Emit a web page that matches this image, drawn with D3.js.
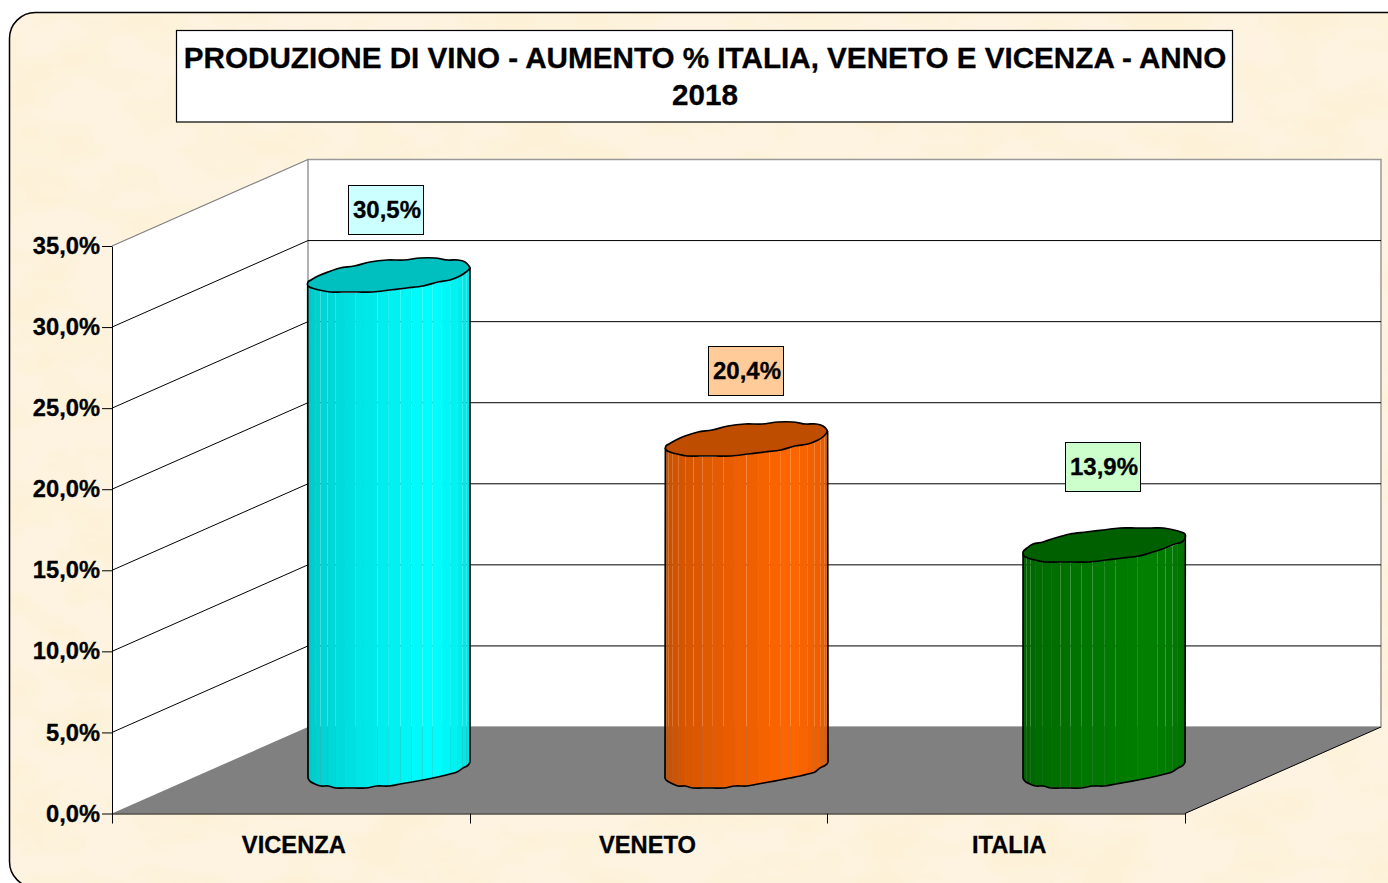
<!DOCTYPE html>
<html>
<head>
<meta charset="utf-8">
<script src="https://cdn.jsdelivr.net/npm/d3@7"></script>
<style>
  html, body { margin: 0; padding: 0; background: #fff; overflow: hidden; }
  svg { display: block; }
  text { font-family: "Liberation Sans", Arial, sans-serif; font-weight: bold; fill: #000; stroke: #000; stroke-width: 0.3px; }
</style>
</head>
<body>
<div id="chart"></div>
<script>
// Data
const categories = ["VICENZA", "VENETO", "ITALIA"];
const values = [30.5, 20.4, 13.9];
const valueLabels = ["30,5%", "20,4%", "13,9%"];
const barColors = ["#00ffff", "#ff6600", "#008000"];
const labelFills = ["#ccffff", "#ffcc99", "#ccffcc"];
const yTicks = [0, 5, 10, 15, 20, 25, 30, 35];
const titleLines = ["PRODUZIONE DI VINO - AUMENTO % ITALIA, VENETO E VICENZA - ANNO", "2018"];

const width = 1388, height = 883;

// Fake 3D: the depth of the plot box is a plain screen offset
const depthX = 196, depthY = -86.5;
const radiusDepth = 0.2, radiusFront = 71;

const svg = d3.select("#chart").append("svg")
    .attr("width", width)
    .attr("height", height)
    .attr("viewBox", `0 0 ${width} ${height}`);

const x = d3.scaleBand().domain(categories).range([112, 1185]);
const y = d3.scaleLinear().domain([0, 35]).range([813.5, 246]);

const project = (px, v, depth) => [px + depth * depthX, y(v) + depth * depthY];

// Paper background
const defs = svg.append("defs");
defs.append("clipPath").attr("id", "frame-clip")
    .append("rect").attr("x", 9.5).attr("y", 12.5).attr("width", 1420).attr("height", 875).attr("rx", 26);

const paper = defs.append("filter").attr("id", "paper")
    .attr("x", 0).attr("y", 0).attr("width", "100%").attr("height", "100%");
paper.append("feTurbulence")
    .attr("type", "fractalNoise")
    .attr("baseFrequency", "0.014 0.024")
    .attr("numOctaves", 4)
    .attr("seed", 7);
paper.append("feColorMatrix")
    .attr("type", "matrix")
    .attr("values", "0 0 0 0 0.98  0 0 0 0 0.89  0 0 0 0 0.68  3 0 0 0 -1.2");

const bg = svg.append("g").attr("clip-path", "url(#frame-clip)");
bg.append("rect").attr("width", width).attr("height", height).attr("fill", "#fdf3e0");
bg.append("rect").attr("width", width).attr("height", height).attr("filter", "url(#paper)");

svg.append("rect")
    .attr("x", 9.5).attr("y", 12.5).attr("width", 1420).attr("height", 875).attr("rx", 26)
    .attr("fill", "none").attr("stroke", "#000").attr("stroke-width", 1.5);

// Title box
svg.append("rect")
    .attr("x", 176.5).attr("y", 30.5).attr("width", 1056).attr("height", 91.5)
    .attr("fill", "#fff").attr("stroke", "#000").attr("stroke-width", 1.2);

svg.selectAll(".title-line")
    .data(titleLines)
    .enter().append("text")
    .attr("class", "title-line")
    .attr("x", 705)
    .attr("y", (d, i) => 68 + i * 37)
    .attr("text-anchor", "middle")
    .attr("font-size", 29.65)
    .text(d => d);

// Plot box: walls and floor
const polygon = d3.line();
const left = x.range()[0], right = x.range()[1];

const walls = svg.append("g");
walls.append("path")
    .attr("d", polygon([project(left, 0, 0), project(left, 35, 0), project(left, 35, 1), project(left, 0, 1)]) + "Z")
    .attr("fill", "#fff");
walls.append("path")
    .attr("d", polygon([project(left, 0, 1), project(left, 35, 1), project(right, 35, 1), project(right, 0, 1)]) + "Z")
    .attr("fill", "#fff").attr("stroke", "#999").attr("stroke-width", 1.5);
walls.append("path")
    .attr("d", polygon([project(left, 35, 0), project(left, 35, 1)]))
    .attr("stroke", "#808080").attr("stroke-width", 1.2).attr("fill", "none");

// Gridlines, side wall then back wall
const grid = svg.append("g").attr("stroke", "#000").attr("stroke-width", 1).attr("fill", "none");
grid.selectAll(".side").data(yTicks.filter(t => t > 0 && t < 35)).enter().append("path")
    .attr("class", "side")
    .attr("d", t => polygon([project(left, t, 0), project(left, t, 1)]));
grid.selectAll(".back").data(yTicks.filter(t => t > 0 && t < 35)).enter().append("path")
    .attr("class", "back")
    .attr("d", t => polygon([project(left, t, 1), project(right, t, 1)]));

svg.append("path")
    .attr("d", polygon([project(left, 0, 0), project(right, 0, 0), project(right, 0, 1), project(left, 0, 1)]) + "Z")
    .attr("fill", "#808080");
svg.append("path")
    .attr("d", polygon([project(right, 0, 0), project(right, 0, 1)]))
    .attr("stroke", "#000").attr("stroke-width", 1).attr("fill", "none");

// Cylinders
const facetCount = 22;
const halfTurn = Math.atan2(radiusDepth * depthX, radiusFront);
const shade = d3.scaleLinear().domain([0, 0.68, 1]).range([0.76, 1, 0.86]);

const rim = (cx, v, t) => {
    const [px, py] = project(cx, v, 0.5);
    return [
        px + radiusFront * Math.cos(t) + radiusDepth * depthX * Math.sin(t),
        py + radiusDepth * depthY * Math.sin(t)
    ];
};

// the original outline wobbles a little, snap y and smooth it to get the same look
const snap = p => [Math.round(p[0]), Math.round(p[1] / 2) * 2];
const wavy = d3.line().curve(d3.curveCatmullRom);
const wavyClosed = d3.line().curve(d3.curveCatmullRomClosed);

const bars = svg.selectAll(".bar")
    .data(categories.map((c, i) => ({ c, v: values[i], color: barColors[i] })))
    .enter().append("g")
    .attr("class", "bar");

bars.each(function (d) {
    const g = d3.select(this);
    const cx = x(d.c) + x.bandwidth() / 2;
    const angles = d3.range(facetCount + 1).map(i => halfTurn - Math.PI + i * Math.PI / facetCount);

    // no stroke on the facets, the seams should let the background through
    d3.pairs(angles).forEach(([a, b], i) => {
        g.append("path")
            .attr("d", polygon([rim(cx, d.v, a), rim(cx, d.v, b), rim(cx, 0, b), rim(cx, 0, a)]) + "Z")
            .attr("fill", d3.interpolateRgb("#000", d.color)(shade((i + 0.5) / facetCount)));
    });

    const bottomEdge = wavy(angles.map(a => rim(cx, 0, a)).map(snap));
    const topLeft = rim(cx, d.v, angles[0]);
    const topRight = rim(cx, d.v, angles[facetCount]);
    g.append("path")
        .attr("d", `M${topLeft[0]},${topLeft[1]}L${bottomEdge.slice(1)}L${topRight[0]},${topRight[1]}`)
        .attr("fill", "none").attr("stroke", "#000").attr("stroke-width", 1.7);

    const cap = d3.range(30).map(i => snap(rim(cx, d.v, i * 2 * Math.PI / 30)));
    g.append("path")
        .attr("d", wavyClosed(cap))
        .attr("fill", d3.interpolateRgb("#000", d.color)(0.75))
        .attr("stroke", "#000").attr("stroke-width", 1.7);
});

// Value labels
const labelOffset = [[0, -66], [2, -68], [2, -78]];
const labels = svg.selectAll(".value-label")
    .data(categories)
    .enter().append("g")
    .attr("class", "value-label")
    .attr("transform", (c, i) => {
        const [px, py] = project(x(c) + x.bandwidth() / 2, values[i], 0.5);
        return `translate(${Math.round(px + labelOffset[i][0])},${Math.round(py + labelOffset[i][1])})`;
    });

labels.append("rect")
    .attr("x", -40.5).attr("y", -24.5).attr("width", 75).attr("height", 49)
    .attr("fill", (c, i) => labelFills[i])
    .attr("stroke", "#000").attr("stroke-width", 1);

labels.append("text")
    .attr("x", -2)
    .attr("y", 8)
    .attr("text-anchor", "middle")
    .attr("font-size", 24)
    .text((c, i) => valueLabels[i]);

// Axes
const yAxis = svg.append("g")
    .attr("transform", `translate(${left},0)`)
    .call(d3.axisLeft(y).tickValues(yTicks).tickSize(10).tickSizeOuter(0).tickPadding(2)
        .tickFormat(d => d.toFixed(1).replace(".", ",") + "%"));
yAxis.selectAll("text").attr("font-size", 23.7).style("font-family", null);

const xAxis = svg.append("g")
    .attr("transform", `translate(0,${y(0)})`)
    .call(d3.axisBottom(x).tickSize(0).tickPadding(23));
const xLabelShift = [3, -1, 3];
xAxis.selectAll("text")
    .attr("font-size", 23.7)
    .attr("dx", (d, i) => xLabelShift[i])
    .style("font-family", null);

svg.append("g")
    .attr("stroke", "#000")
    .selectAll("line")
    .data(categories.map(c => x(c) + x.bandwidth()).concat(left))
    .enter().append("line")
    .attr("x1", d => Math.round(d) + 0.5).attr("x2", d => Math.round(d) + 0.5)
    .attr("y1", y(0)).attr("y2", y(0) + 10);
</script>
</body>
</html>
